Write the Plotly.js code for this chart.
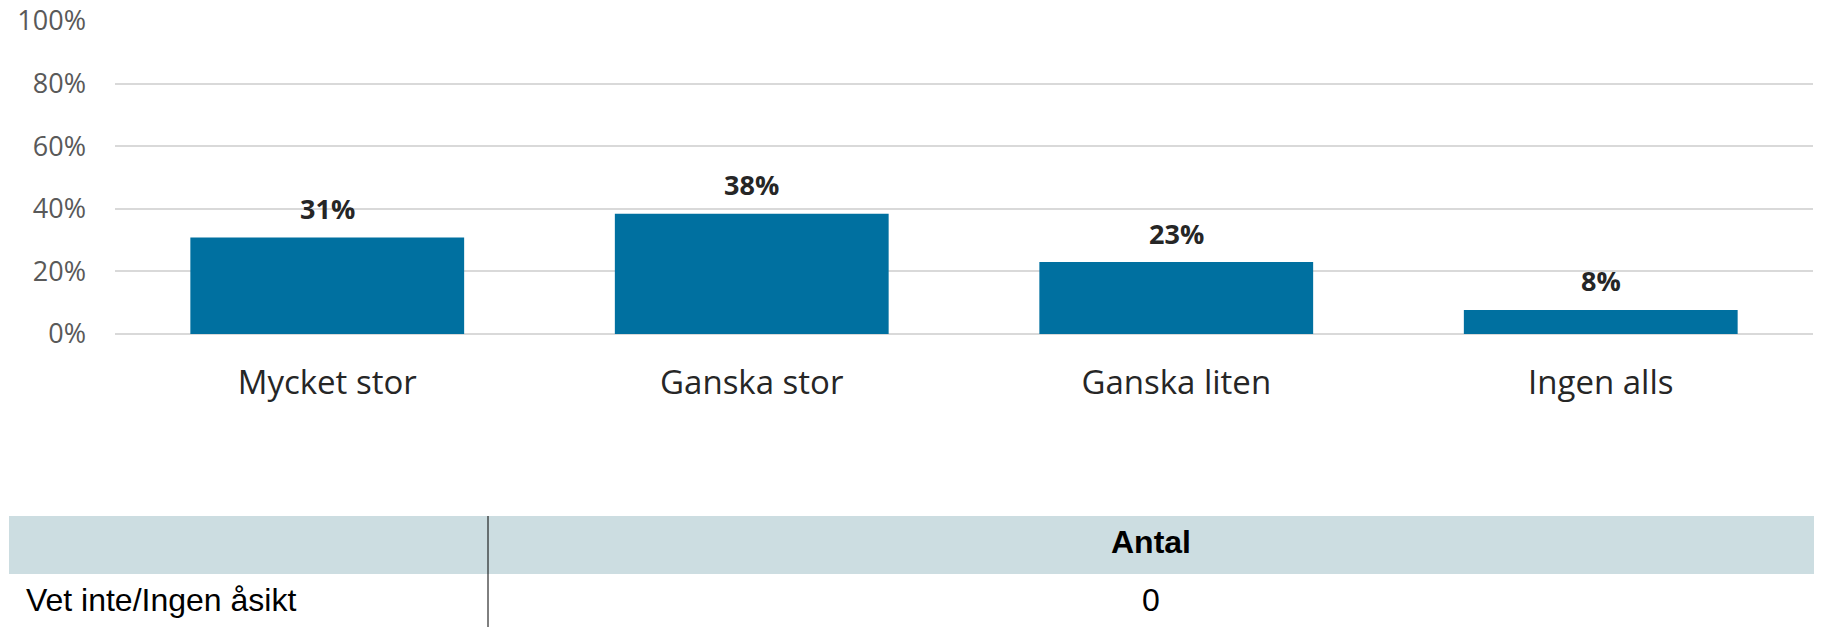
<!DOCTYPE html>
<html>
<head>
<meta charset="utf-8">
<script src="https://cdn.plot.ly/plotly-3.0.1.min.js"></script>
<style>html,body{margin:0;padding:0;background:#fff;}#chart{width:1821px;height:627px;}
#chart svg a, #chart svg a tspan{fill:#000 !important;cursor:default !important;}</style>
</head>
<body>
<div id="chart"></div>
<script>
// Data
const categories = ["Mycket stor", "Ganska stor", "Ganska liten", "Ingen alls"];
const shares = [0.308, 0.384, 0.230, 0.077];
const tableHeader = ["", "Antal"];
const tableRowLabels = ["Vet inte/Ingen åsikt"];
const tableCounts = [0];

const W = 1821, H = 627;
const mL = 9, mR = 7, mT = 21, mB = 0;
const pw = W - mL - mR, ph = H - mT - mB;
const px = v => (v - mL) / pw;
const py = v => (H - mB - v) / ph;

const bar = {
  type: "bar",
  x: categories,
  y: shares,
  marker: {color: "#0070a0", line: {width: 0}},
  hoverinfo: "skip",
  xaxis: "x", yaxis: "y"
};

// vertical nudge of table text (plotly tables have no vertical alignment);
// spaces are kept non-breaking so the cell text is not wrapped.
const shiftDown = (s, d) => "<a href=''style='baseline-shift:-" + d + "px;color:#000000'>" + s.replace(/ /g, "\u00a0") + "</a>";
const tableFont = {family: "Liberation Sans, Arial, sans-serif", size: 32, color: "#000"};
const table = {
  type: "table",
  domain: {x: [0, 1], y: [0, py(516)]},
  columnwidth: [479, 1326],
  header: {
    values: tableHeader.map(h => h ? shiftDown("<b>" + h + "</b>", 7) : ""),
    align: ["left", "center"],
    fill: {color: "#ccdde1"},
    line: {width: 0, color: "rgba(0,0,0,0)"},
    font: tableFont,
    height: 58
  },
  cells: {
    values: [tableRowLabels.map(s => shiftDown("\u00a0" + s, 14)), tableCounts.map(v => shiftDown(String(v), 14))],
    align: ["left", "center"],
    fill: {color: "#ffffff"},
    line: {width: 0, color: "rgba(0,0,0,0)"},
    font: tableFont,
    height: 53
  }
};

const annotations = categories.map((c, i) => ({
  x: c, y: shares[i], xref: "x", yref: "y",
  text: "<b>" + Math.round(shares[i] * 100) + "%</b>",
  showarrow: false, yanchor: "middle", yshift: 29,
  font: {family: "Open Sans, sans-serif", size: 27, color: "#262626"}
}));

const layout = {
  width: W, height: H,
  margin: {l: mL, r: mR, t: mT, b: mB, pad: 0},
  paper_bgcolor: "#fff", plot_bgcolor: "#fff",
  showlegend: false,
  bargap: 0.355,
  xaxis: {
    domain: [px(115), px(1813)],
    anchor: "y",
    showgrid: false, zeroline: false, showline: false, ticks: "",
    ticklabelstandoff: 26,
    tickfont: {family: "Open Sans, sans-serif", size: 33, color: "#262626"},
    fixedrange: true
  },
  yaxis: {
    domain: [py(334), 1],
    anchor: "x",
    range: [0, 1],
    dtick: 0.2, tick0: 0,
    tickformat: ".0%",
    showgrid: true, gridcolor: "#d9d9d9", gridwidth: 2,
    zeroline: true, zerolinecolor: "#d9d9d9", zerolinewidth: 2,
    showline: false, ticks: "",
    ticklabelstandoff: 28,
    tickfont: {family: "Open Sans, sans-serif", size: 27, color: "#595959"},
    fixedrange: true
  },
  annotations: annotations,
  shapes: [{
    type: "line", xref: "paper", yref: "paper",
    x0: px(488), x1: px(488), y0: 0, y1: py(516),
    line: {color: "#000", width: 1}
  }]
};

Plotly.newPlot("chart", [bar, table], layout, {displayModeBar: false, staticPlot: true});
</script>
</body>
</html>
